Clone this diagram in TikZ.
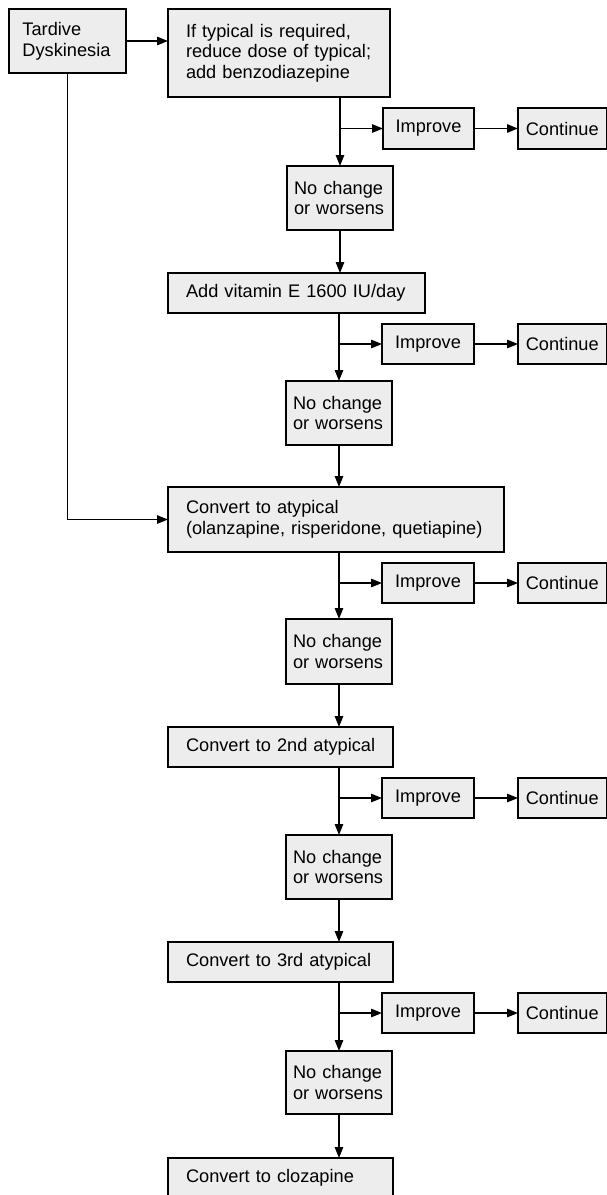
\documentclass[tikz,border=0pt]{standalone}
\usepackage{fontspec}
\setmainfont{Liberation Sans}
\usetikzlibrary{arrows.meta}
\definecolor{boxfill}{RGB}{237,237,237}
\begin{document}
\begin{tikzpicture}[x=1pt,y=-1pt,
  box/.style={draw=black, line width=1.4pt, fill=boxfill, anchor=north west,
    outer sep=0pt, inner ysep=0pt, align=left,
    font=\fontsize{18.2}{20.7}\selectfont},
  cbox/.style={box, align=center, inner xsep=3pt},
  conn/.style={line width=1.3pt, -{Triangle[length=11pt,width=8.5pt]}}]
\useasboundingbox (0,0) rectangle (607,1195);

% boxes
\node[box, inner xsep=13.5pt, text width=90pt, minimum height=64pt] (tard) at (9,9) {\mbox{Tardive}\\\mbox{Dyskinesia}};
\node[box, inner xsep=18pt, text width=186pt, minimum height=88pt] (typ) at (168,9) {\mbox{If typical is required,}\\\mbox{reduce dose of typical;}\\\mbox{add benzodiazepine}};
\node[cbox, text width=85pt, minimum height=41pt] (imp1) at (383,108) {Improve};
\node[cbox, text width=82.5pt, minimum height=41pt] (cont1) at (518,108) {Continue};
\node[box, inner xsep=7pt, text width=92pt, minimum height=64pt] (nc1) at (287,166) {\mbox{No change}\\\mbox{or worsens}};

\node[box, inner xsep=18pt, text width=221pt, minimum height=40pt] (vitE) at (168,273) {\mbox{Add vitamin E 1600 IU/day}};
\node[cbox, text width=86pt, minimum height=40pt] (imp2) at (382,324) {Improve};
\node[cbox, text width=82.5pt, minimum height=40pt] (cont2) at (518,324) {Continue};
\node[box, inner xsep=7pt, text width=92pt, minimum height=64pt] (nc2) at (286,381) {\mbox{No change}\\\mbox{or worsens}};

\node[box, inner xsep=18pt, text width=300pt, minimum height=65pt] (atyp) at (168,487) {\mbox{Convert to atypical}\\\mbox{(olanzapine, risperidone, quetiapine)}};
\node[cbox, text width=86pt, minimum height=40pt] (imp3) at (382,563) {Improve};
\node[cbox, text width=82.5pt, minimum height=40pt] (cont3) at (518,563) {Continue};
\node[box, inner xsep=7pt, text width=92pt, minimum height=65pt] (nc3) at (286,619) {\mbox{No change}\\\mbox{or worsens}};

\node[box, inner xsep=18pt, text width=189pt, minimum height=40pt] (atyp2) at (168,727) {\mbox{Convert to 2nd atypical}};
\node[cbox, text width=86pt, minimum height=40pt] (imp4) at (382,778) {Improve};
\node[cbox, text width=82.5pt, minimum height=40pt] (cont4) at (518,778) {Continue};
\node[box, inner xsep=7pt, text width=92pt, minimum height=64pt] (nc4) at (286,835) {\mbox{No change}\\\mbox{or worsens}};

\node[box, inner xsep=18pt, text width=189pt, minimum height=40pt] (atyp3) at (168,942) {\mbox{Convert to 3rd atypical}};
\node[cbox, text width=86pt, minimum height=40pt] (imp5) at (382,993) {Improve};
\node[cbox, text width=82.5pt, minimum height=40pt] (cont5) at (518,993) {Continue};
\node[box, inner xsep=7pt, text width=92pt, minimum height=63pt] (nc5) at (286,1051) {\mbox{No change}\\\mbox{or worsens}};

\node[box, inner xsep=18pt, text width=189pt, minimum height=40pt] (cloz) at (168,1158) {\mbox{Convert to clozapine}};

% connectors
\draw[conn] (tard.east) -- (tard.east -| typ.west);
\draw[conn] (tard.south) |- (atyp.west);

\draw[conn] (typ.south -| nc1.north) -- (nc1.north);
\draw[conn] (imp1.west -| nc1.north) -- (imp1.west);
\draw[conn] (imp1.east) -- (cont1.west);
\draw[conn] (nc1.south) -- (nc1.south |- vitE.north);

\draw[conn] (vitE.south -| nc2.north) -- (nc2.north);
\draw[conn] (imp2.west -| nc2.north) -- (imp2.west);
\draw[conn] (imp2.east) -- (cont2.west);
\draw[conn] (nc2.south) -- (nc2.south |- atyp.north);

\draw[conn] (atyp.south -| nc3.north) -- (nc3.north);
\draw[conn] (imp3.west -| nc3.north) -- (imp3.west);
\draw[conn] (imp3.east) -- (cont3.west);
\draw[conn] (nc3.south) -- (nc3.south |- atyp2.north);

\draw[conn] (atyp2.south -| nc4.north) -- (nc4.north);
\draw[conn] (imp4.west -| nc4.north) -- (imp4.west);
\draw[conn] (imp4.east) -- (cont4.west);
\draw[conn] (nc4.south) -- (nc4.south |- atyp3.north);

\draw[conn] (atyp3.south -| nc5.north) -- (nc5.north);
\draw[conn] (imp5.west -| nc5.north) -- (imp5.west);
\draw[conn] (imp5.east) -- (cont5.west);
\draw[conn] (nc5.south) -- (nc5.south |- cloz.north);
\end{tikzpicture}
\end{document}
